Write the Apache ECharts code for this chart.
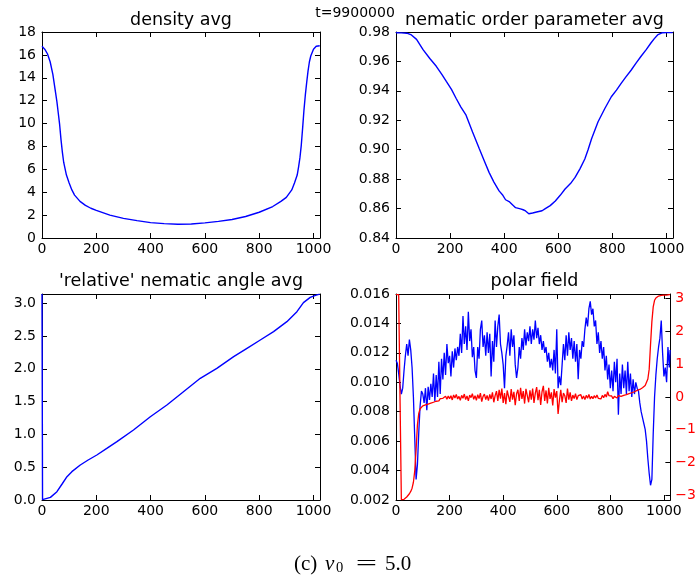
<!DOCTYPE html>
<html>
<head>
<meta charset="utf-8">
<script src="https://cdn.jsdelivr.net/npm/echarts@6/dist/echarts.min.js"></script>
<style>
  html, body { margin: 0; padding: 0; background: #fff; }
  #chart { width: 699px; height: 580px; }
</style>
</head>
<body>
<div id="chart"></div>
<script>
// ---- data ----------------------------------------------------------------
const xTicks = [0, 200, 400, 600, 800, 1000];
const densityTicks = [0, 2, 4, 6, 8, 10, 12, 14, 16, 18];
const nematicTicks = [0.84, 0.86, 0.88, 0.90, 0.92, 0.94, 0.96, 0.98];
const angleTicks = [0, 0.5, 1.0, 1.5, 2.0, 2.5, 3.0];
const polarMagTicks = [0.002, 0.004, 0.006, 0.008, 0.010, 0.012, 0.014, 0.016];
const polarAngleTicks = [-3, -2, -1, 0, 1, 2, 3];

const densityX = [0, 10, 20, 30, 40, 50, 55, 60, 65, 70, 75, 80, 90, 100, 110, 120, 140, 160, 180, 200,
  250, 300, 350, 400, 450, 500, 550, 600, 650, 700, 750, 800, 850, 880, 900, 920, 930, 940,
  945, 950, 955, 960, 965, 970, 975, 980, 985, 990, 1000, 1010, 1023];
const densityY = [16.75, 16.5, 16.1, 15.4, 14.3, 12.7, 11.9, 10.9, 9.9, 8.6, 7.5, 6.6, 5.5, 4.8, 4.2, 3.75, 3.2, 2.85, 2.6, 2.42,
  2.0, 1.72, 1.52, 1.34, 1.26, 1.2, 1.22, 1.32, 1.45, 1.62, 1.88, 2.25, 2.75, 3.2, 3.55, 4.2, 4.8, 5.5,
  6.2, 7.0, 8.1, 9.6, 11.2, 12.5, 13.6, 14.6, 15.4, 15.9, 16.5, 16.75, 16.8];

const nematicX = [0, 20, 40, 57, 76, 100, 125, 149, 170, 186, 205, 222, 240, 259, 283, 308, 325, 344, 362, 381,
  395, 405, 420, 442, 460, 470, 479, 485, 491, 498, 505, 512, 520, 527, 540, 552, 570, 589, 607, 625,
  645, 662, 680, 698, 710, 723, 747, 772, 796, 815, 833, 850, 869, 888, 906, 925, 943, 955, 967, 985, 1000, 1023];
const nematicY = [0.9795, 0.9794, 0.9792, 0.978, 0.975, 0.968, 0.962, 0.9567, 0.951, 0.9464, 0.941, 0.935, 0.929, 0.9235, 0.912, 0.9006, 0.893, 0.8846, 0.878, 0.872,
  0.869, 0.866, 0.8645, 0.8606, 0.8598, 0.8592, 0.8584, 0.8575, 0.8565, 0.8578, 0.857, 0.8572, 0.8577, 0.858, 0.8585, 0.860, 0.862, 0.8652, 0.869, 0.8733,
  0.877, 0.8812, 0.887, 0.8937, 0.900, 0.9075, 0.919, 0.928, 0.936, 0.9405, 0.9452, 0.9495, 0.954, 0.959, 0.9635, 0.968, 0.9727, 0.9755, 0.978, 0.9795, 0.9796, 0.9796];

const angleX = [0, 2, 31, 55, 74, 92, 110, 141, 170, 202, 240, 276, 337, 399, 460, 521, 583, 644, 706, 755,
  804, 853, 902, 939, 963, 988, 1010, 1023];
const angleY = [3.1416, 0.005, 0.04, 0.127, 0.244, 0.356, 0.432, 0.534, 0.61, 0.686, 0.79, 0.89, 1.068, 1.27, 1.449, 1.652, 1.856, 2.008, 2.186, 2.313,
  2.44, 2.567, 2.72, 2.872, 3.01, 3.09, 3.125, 3.14];

// polar field sampled every 5 cells, last cell 1023
const polarX = [];
for (let i = 0; i <= 1020; i += 5) polarX.push(i);
polarX.push(1023);

// magnitude, in units of 1e-3
const polarMagMilli = [
  11.5, 11.3, 10.6, 9.8, 9.2, 9.6, 10.8, 11.8, 12.6, 11.8,
  12.9, 12.2, 11.0, 9.0, 6.2, 3.4, 4.4, 6.6, 8.4, 9.4,
  9.2, 8.6, 9.6, 8.1, 9.7, 8.8, 9.9, 9.0, 10.6, 8.7,
  10.5, 9.0, 11.4, 9.2, 11.6, 10.2, 12.0, 10.5, 12.6, 11.3,
  11.8, 10.4, 12.1, 11.0, 12.3, 11.5, 12.4, 11.8, 13.3, 12.0,
  14.5, 12.6, 13.8, 12.2, 14.8, 12.8, 13.6, 11.7, 12.4, 10.8,
  10.3, 12.4, 11.6, 13.6, 14.2, 12.4, 13.2, 11.8, 13.4, 12.0,
  13.3, 10.4, 12.8, 11.4, 14.2, 12.4, 13.8, 14.6, 12.6, 12.0,
  11.2, 9.6, 11.8, 12.5, 13.4, 11.8, 13.6, 12.4, 13.2, 11.2,
  10.3, 11.0, 12.4, 11.6, 13.0, 12.2, 13.6, 12.5, 13.4, 12.8,
  13.8, 12.6, 13.6, 12.9, 14.2, 13.0, 13.7, 12.6, 13.2, 12.2,
  12.8, 12.0, 12.4, 11.4, 12.0, 11.0, 11.6, 10.8, 12.2, 10.6,
  13.6, 9.6, 10.4, 9.8, 11.2, 12.6, 11.5, 13.2, 11.8, 13.4,
  12.2, 13.0, 11.6, 12.8, 11.4, 12.6, 10.2, 12.2, 11.6, 12.8,
  12.4, 13.6, 14.4, 13.8, 15.0, 15.5, 14.6, 15.0, 13.8, 14.2,
  12.6, 13.4, 12.0, 12.8, 11.6, 12.4, 10.8, 11.8, 10.2, 11.2,
  9.6, 10.8, 9.4, 11.4, 10.0, 11.6, 7.8, 10.6, 9.2, 11.2,
  9.6, 10.8, 9.2, 11.4, 9.4, 10.6, 9.0, 10.2, 9.2, 10.0,
  9.6, 9.4, 8.6, 8.0, 7.6, 7.2, 6.8, 6.0, 4.8, 3.8,
  3.0, 3.4, 6.5, 9.0, 10.5, 11.6, 12.4, 13.0, 14.2, 12.0,
  10.4, 11.0, 10.0, 12.4, 11.0, 12.2
];

// direction, radians
const polarAngle = [
  3.12, 3.12, 3.12, 3.12, -3.13, -3.13, -3.12, -3.10, -3.05, -3.00,
  -2.95, -2.88, -2.78, -2.60, -2.25, -1.60, -0.85, -0.50, -0.36, -0.30,
  -0.27, -0.25, -0.24, -0.20, -0.22, -0.17, -0.19, -0.13, -0.16, -0.10,
  -0.13, -0.08, -0.12, -0.05, -0.10, -0.04, -0.09, 0.02, -0.07, 0.03,
  -0.05, 0.04, -0.09, 0.06, -0.03, 0.08, -0.06, 0.02, -0.10, 0.05,
  -0.04, 0.09, -0.08, 0.03, -0.12, 0.06, -0.02, 0.10, -0.07, 0.04,
  -0.10, 0.07, -0.05, 0.12, -0.14, 0.02, 0.09, -0.08, 0.05, -0.11,
  0.08, -0.06, 0.14, -0.16, 0.04, 0.18, -0.12, 0.22, -0.05, 0.26,
  -0.18, 0.12, -0.22, 0.20, 0.02, -0.15, 0.24, -0.08, 0.16, -0.25,
  0.10, 0.22, -0.12, 0.28, -0.06, 0.18, -0.20, 0.25, 0.04, -0.16,
  0.20, -0.08, 0.26, -0.18, 0.12, 0.30, -0.10, 0.22, -0.24, 0.16,
  0.34, -0.12, 0.20, -0.20, 0.28, -0.06, 0.14, -0.26, 0.24, -0.02,
  0.18, -0.52, -0.10, 0.22, -0.16, 0.12, 0.04, -0.18, 0.26, -0.08,
  0.14, -0.12, 0.06, -0.05, 0.10, -0.08, 0.04, -0.02, 0.07, -0.06,
  0.03, -0.08, 0.05, -0.04, 0.08, -0.06, 0.02, -0.05, 0.04, -0.03,
  0.06, -0.04, 0.02, -0.06, 0.05, -0.02, 0.08, 0.00, 0.16, 0.04,
  -0.02, 0.03, -0.05, 0.02, 0.06, -0.03, 0.04, 0.08, 0.02, 0.07,
  0.05, 0.10, 0.07, 0.12, 0.10, 0.15, 0.13, 0.18, 0.16, 0.21,
  0.20, 0.24, 0.23, 0.27, 0.28, 0.32, 0.35, 0.40, 0.55, 0.85,
  1.60, 2.30, 2.75, 2.95, 3.02, 3.06, 3.08, 3.09, 3.10, 3.10,
  3.11, 3.11, 3.11, 3.11, 3.12, 3.12
];

// ---- layout / styling ------------------------------------------------------
const SANS = '"DejaVu Sans", sans-serif';
const SERIF = '"Liberation Serif", "DejaVu Serif", serif';
const X_MAX = 1024;

const grids = [
  { left: 42, top: 32, width: 278, height: 206 },
  { left: 396, top: 32, width: 277, height: 206 },
  { left: 42, top: 294, width: 278, height: 206 },
  { left: 396, top: 294, width: 277, height: 206 }
];

function makeAxis(gridIndex, position, min, max, ticks, fmt, labelOpts) {
  const showLabel = !!labelOpts;
  return {
    type: 'value',
    gridIndex,
    position,
    min,
    max,
    axisLine: { show: true, onZero: false, lineStyle: { color: '#000', width: 1 } },
    axisTick: { show: true, inside: true, length: 5, customValues: ticks, lineStyle: { color: '#000', width: 1 } },
    axisLabel: Object.assign({
      show: showLabel,
      customValues: ticks,
      formatter: fmt,
      color: '#000',
      fontFamily: SANS,
      fontSize: 14
    }, labelOpts || {}),
    splitLine: { show: false },
    axisPointer: { show: false }
  };
}

const fmtInt = v => String(Math.round(v));
const fmtMinus = v => String(Math.round(v)).replace('-', '\u2212');

const xAxes = [];
for (let g = 0; g < 4; g++) {
  xAxes.push(makeAxis(g, 'bottom', 0, X_MAX, xTicks, fmtInt, { margin: 4 }));
  xAxes.push(makeAxis(g, 'top', 0, X_MAX, xTicks, fmtInt, null));
}

const yAxes = [
  makeAxis(0, 'left', 0, 18, densityTicks, fmtInt, { margin: 6 }),
  makeAxis(0, 'right', 0, 18, densityTicks, fmtInt, null),
  makeAxis(1, 'left', 0.84, 0.98, nematicTicks, v => v.toFixed(2), { margin: 6 }),
  makeAxis(1, 'right', 0.84, 0.98, nematicTicks, v => v.toFixed(2), null),
  makeAxis(2, 'left', 0, Math.PI, angleTicks, v => v.toFixed(1), { margin: 6 }),
  makeAxis(2, 'right', 0, Math.PI, angleTicks, v => v.toFixed(1), null),
  makeAxis(3, 'left', 0.002, 0.016, polarMagTicks, v => v.toFixed(3), { margin: 6 }),
  makeAxis(3, 'right', -Math.PI, Math.PI, polarAngleTicks, fmtMinus, { margin: 5, color: '#ff0000' })
];

const pairs = (xs, ys) => xs.map((x, i) => [x, ys[i]]);

function lineSeries(xi, yi, data, color, width) {
  return {
    type: 'line',
    xAxisIndex: xi,
    yAxisIndex: yi,
    data,
    symbol: 'none',
    showSymbol: false,
    clip: true,
    silent: true,
    lineStyle: { color, width },
    emphasis: { disabled: true }
  };
}

function label(text, x, y, font, extra) {
  return {
    type: 'text',
    x, y,
    silent: true,
    style: Object.assign({
      text,
      font,
      fill: '#000',
      textAlign: 'center',
      textVerticalAlign: 'middle'
    }, extra || {})
  };
}

const titleFont = '17.5px ' + SANS;

const option = {
  animation: false,
  backgroundColor: '#fff',
  grid: grids,
  xAxis: xAxes,
  yAxis: yAxes,
  series: [
    lineSeries(0, 0, pairs(densityX, densityY), '#0000ff', 1.4),
    lineSeries(2, 2, pairs(nematicX, nematicY), '#0000ff', 1.4),
    lineSeries(4, 4, pairs(angleX, angleY), '#0000ff', 1.4),
    lineSeries(6, 6, pairs(polarX, polarMagMilli.map(v => v / 1000)), '#0000ff', 1.3),
    lineSeries(6, 7, pairs(polarX, polarAngle), '#ff0000', 1.3)
  ],
  graphic: [
    label('t=9900000', 355, 13, '14px ' + SANS),
    label('density avg', 181, 20.5, titleFont),
    label('nematic order parameter avg', 534.5, 20.5, titleFont),
    label('\'relative\' nematic angle avg', 181, 281.5, titleFont),
    label('polar field', 534.5, 281.5, titleFont),
    // caption: (c) v_0 = 5.0
    label('(c)', 294, 564.3, '21px ' + SERIF, { textAlign: 'left' }),
    label('v', 325, 564.3, 'italic 21px ' + SERIF, { textAlign: 'left' }),
    label('0', 336, 568.5, '14.5px ' + SERIF, { textAlign: 'left' }),
    Object.assign(label('=', 0, 0, '21px ' + SERIF), { x: 366.5, y: 564.3, scaleX: 1.8 }),
    label('5.0', 385, 564.3, '21px ' + SERIF, { textAlign: 'left' })
  ]
};

const chart = echarts.init(document.getElementById('chart'), null, { renderer: 'canvas' });
chart.setOption(option);
</script>
</body>
</html>
